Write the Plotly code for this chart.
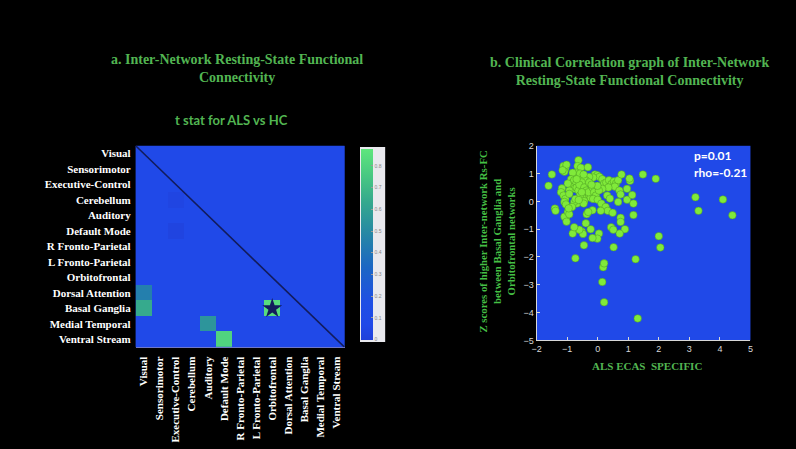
import plotly.graph_objects as go

# ---- Panel a: inter-network t-statistics (ALS vs HC) ----
networks = ["Visual", "Sensorimotor", "Executive-Control", "Cerebellum", "Auditory",
            "Default Mode", "R Fronto-Parietal", "L Fronto-Parietal", "Orbitofrontal",
            "Dorsal Attention", "Basal Ganglia", "Medial Temporal", "Ventral Stream"]

baseline_t = 0.07
# (row network, column network, t value)
highlight_cells = [
    ("Dorsal Attention", "Visual", 0.45),
    ("Basal Ganglia", "Visual", 0.64),
    ("Basal Ganglia", "Orbitofrontal", 0.84),
    ("Medial Temporal", "Auditory", 0.55),
    ("Ventral Stream", "Default Mode", 0.80),
    ("Cerebellum", "Executive-Control", 0.04),
    ("Default Mode", "Executive-Control", 0.03),
]
significant_cell = ("Basal Ganglia", "Orbitofrontal")
cbar_ticks = [0, 0.1, 0.2, 0.3, 0.4, 0.5, 0.6, 0.7, 0.8]

# ---- Panel b: clinical correlation ----
ecas_specific = [
    -1.12, -1.06, -1.09, -1.02, -0.63, -0.66, -0.55, -0.69, -0.58, -0.32, -0.82,
    -0.09, -0.01, 0.06, -0.15, 0.15, -0.28, -0.39, -0.46, -0.52,
    -0.87, -0.82, -0.77, -0.71, -0.84, -0.77, -0.69, -0.63, -0.60, -0.93, -0.98,
    -1.17, -1.20, -1.12, -1.06, -1.09, -1.04, -0.93,
    -0.44, -0.37, -0.41, -0.28, -0.23, -0.30, -0.17, -0.12, -0.06, -0.15, -0.50,
    -0.58, -0.52, -0.44, -0.68, -0.77, -0.73, -0.84,
    0.21, 0.28, 0.37, 0.45, 0.53, 0.60, 0.67, 0.56, 0.35, 0.15, 0.04, -0.01,
    0.31, 0.71, 0.75, 0.67, 0.96, 0.96, 1.06, 1.04, 0.78, 1.13, 1.17, 1.17,
    0.00, 0.12, 0.26, 0.33, 0.10, 0.49, 0.75, 0.75, 0.89, 0.72, 0.44, 0.51,
    0.52, 0.04, -0.01, -0.23, -0.17, -0.36, -0.31, -0.39, -0.46, -0.52, -0.48,
    -0.60, -0.82, -0.77, -0.73, -0.45, -1.04, -1.09, -0.98, -0.93, -1.02,
    -1.40, -1.38, -1.61, -1.50, 1.48, 1.90, 3.20, 3.30, 4.10, 4.41, 2.00, 2.05,
    1.24, 1.31, 0.21, 0.15, 0.18, 0.21, -0.17, -0.28, -0.69, -0.46, -0.62,
    -0.20, 0.40, -1.15, -0.95,
]
z_rsfc = [
    1.27, 1.18, 1.07, 1.32, 1.48, 1.27, 1.21, 1.03, 1.00, 1.23, 1.03,
    0.97, 0.94, 0.88, 0.86, 0.80, 0.88, 0.76, 0.83, 0.68,
    0.80, 0.68, 0.76, 0.62, 0.50, 0.45, 0.50, 0.39, 0.60, 0.39, 0.64,
    0.47, 0.33, 0.21, 0.09, -0.02, -0.11, 0.27,
    0.50, 0.39, 0.27, 0.21, 0.13, 0.33, 0.50, 0.33, 0.21, 0.09, 0.13,
    0.21, 0.33, 0.01, -0.08, -0.02, 0.09, -0.20,
    0.64, 0.68, 0.76, 0.62, 0.72, 0.64, 0.76, 0.53, 0.50, 0.45, 0.39, 0.56,
    0.21, 0.39, 0.25, -0.02, 0.45, 0.06, 0.74, 0.82, 0.97, 0.23, -0.08, -0.49,
    0.06, -0.08, -0.20, -0.34, -0.34, -0.41, -0.59, -0.74, -1.00, -1.16, -0.93, -1.02,
    -1.65, -1.16, -1.34, -1.00, -0.32, -0.46, -0.38, -0.79, -0.08, -1.08, -1.17,
    -1.02, -1.16, -0.93, -2.05, -1.58, -0.61, -0.55, -0.38, -0.46, -0.73,
    -0.26, -0.34, 0.56, 0.97, 0.97, 0.81, 0.15, -0.34, 0.07, -0.50, -1.25, -1.66,
    -2.08, -4.21, -3.63, -2.90, -2.37, -2.23, -1.32, 0.68, 0.80, 0.97, 0.05,
    0.60, 0.10, 1.12, -0.25,
]
stats_text = ["p=0.01", "rho=-0.21"]
x_ticks = [-2, -1, 0, 1, 2, 3, 4, 5]
y_ticks = [-5, -4, -3, -2, -1, 0, 1, 2]

W, H = 796, 449
BG = "black"
GREEN = "#52b552"
BLUE = "#2049e8"
NAVY = "#121c5c"
SERIF = "Liberation Serif"


def px(x):
    return x / W


def py(y):
    return 1 - y / H


n = len(networks)
idx = {name: i for i, name in enumerate(networks)}
z = [[baseline_t] * n for _ in range(n)]
for r, c, v in highlight_cells:
    z[idx[r]][idx[c]] = v

colorscale = [
    [0.00, "#2040da"],
    [0.08, "#2049e8"],
    [0.20, "#1f4fe4"],
    [0.38, "#1b66c4"],
    [0.55, "#2686a6"],
    [0.72, "#35a88e"],
    [0.86, "#48c882"],
    [1.00, "#5ee67c"],
]

fig = go.Figure()

fig.add_trace(go.Heatmap(
    z=z, x=list(range(n)), y=list(range(n)),
    zmin=0, zmax=0.88, colorscale=colorscale,
    xaxis="x", yaxis="y", hoverinfo="skip",
    colorbar=dict(
        x=px(359), xanchor="left", y=py(244.5), yanchor="middle",
        len=199 / H, lenmode="fraction", thickness=12, thicknessmode="pixels",
        bgcolor="#e9e9ee", xpad=1, ypad=2, outlinewidth=0,
        tickvals=cbar_ticks, ticktext=[str(t) for t in cbar_ticks],
        ticks="inside", ticklen=2, tickcolor="#999999",
        tickfont=dict(size=5, color="#888888", family="Liberation Sans"),
    ),
))

sr, sc = significant_cell
fig.add_trace(go.Scatter(
    x=[idx[sc]], y=[idx[sr]], mode="markers",
    marker=dict(symbol="star", size=15, color=NAVY, line=dict(width=0)),
    xaxis="x", yaxis="y", hoverinfo="skip", showlegend=False,
))

fig.add_trace(go.Scatter(
    x=ecas_specific, y=z_rsfc, mode="markers",
    marker=dict(size=7.5, color="#80ea3a", line=dict(width=0.5, color="#4a9a22")),
    xaxis="x2", yaxis="y2", hoverinfo="skip", showlegend=False,
))

# diagonal of the connectivity matrix
fig.add_shape(type="line", xref="x", yref="y", x0=-0.5, y0=-0.5, x1=n - 0.5, y1=n - 0.5,
              line=dict(color=NAVY, width=1.6))

label_font = dict(family=SERIF, size=11, color="white", weight="bold")

fig.update_layout(
    width=W, height=H,
    margin=dict(l=0, r=0, t=0, b=0),
    paper_bgcolor=BG, plot_bgcolor=BLUE,
    showlegend=False,
    xaxis=dict(
        domain=[px(132), px(343)], range=[-0.5, n - 0.5],
        tickvals=list(range(n)), ticktext=[f"<b>{t}</b>" for t in networks],
        tickangle=-90, tickfont=label_font, ticks="", showgrid=False, zeroline=False,
        showline=True, linecolor="#6f78c8", linewidth=1, anchor="y",
        ticklabelstandoff=4,
    ),
    yaxis=dict(
        domain=[py(350), py(144)], range=[n - 0.5, -0.5],
        tickvals=list(range(n)), ticktext=[f"<b>{t}</b>" for t in networks],
        tickfont=label_font, ticks="", showgrid=False, zeroline=False,
        showline=False, anchor="x", ticklabelstandoff=4,
    ),
    xaxis2=dict(
        domain=[px(537), px(753)], range=[-2, 5], tickvals=x_ticks,
        tickfont=dict(family="Liberation Sans", size=9, color="#d8d8d8"),
        ticks="inside", ticklen=3, tickcolor="#d8d8d8",
        showgrid=False, zeroline=False, showline=True, linecolor="#d8d8d8",
        linewidth=1, anchor="y2",
    ),
    yaxis2=dict(
        domain=[py(343), py(144)], range=[-5, 2], tickvals=y_ticks,
        tickfont=dict(family="Liberation Sans", size=9, color="#d8d8d8"),
        ticks="inside", ticklen=3, tickcolor="#d8d8d8",
        showgrid=False, zeroline=False, showline=True, linecolor="#d8d8d8",
        linewidth=1, anchor="x2",
    ),
)

title_font = dict(family=SERIF, size=14, color=GREEN, weight="bold")
annotations = [
    dict(x=px(234), y=py(65), text="a. Inter-Network Resting-State Functional<br>Connectivity",
         font=title_font, xanchor="center", yanchor="middle"),
    dict(x=px(229), y=py(118), text="t stat for ALS vs HC",
         font=dict(family="Lato", size=13, color=GREEN, weight="bold"),
         xanchor="center", yanchor="middle"),
    dict(x=px(631), y=py(68), text="b. Clinical Correlation graph of Inter-Network<br>Resting-State Functional Connectivity",
         font=title_font, xanchor="center", yanchor="middle"),
    dict(x=px(649), y=py(369), text="ALS ECAS\u00a0 SPECIFIC",
         font=dict(family=SERIF, size=11, color=GREEN, weight="bold"),
         xanchor="center", yanchor="middle"),
    dict(x=px(497), y=py(242), textangle=-90,
         text="Z scores of higher Inter-network Rs-FC<br>between Basal Ganglia and<br>Orbitofrontal networks",
         font=dict(family=SERIF, size=10.8, color="#45bf45", weight="bold"),
         xanchor="center", yanchor="middle"),
    dict(x=px(694), y=py(154), text=stats_text[0],
         font=dict(family="Lato", size=12, color="white", weight="bold"),
         xanchor="left", yanchor="middle"),
    dict(x=px(694), y=py(171), text=stats_text[1],
         font=dict(family="Lato", size=12, color="white", weight="bold"),
         xanchor="left", yanchor="middle"),
]
for a in annotations:
    a.update(xref="paper", yref="paper", showarrow=False)
fig.update_layout(annotations=annotations)

fig.write_html("out.html")
